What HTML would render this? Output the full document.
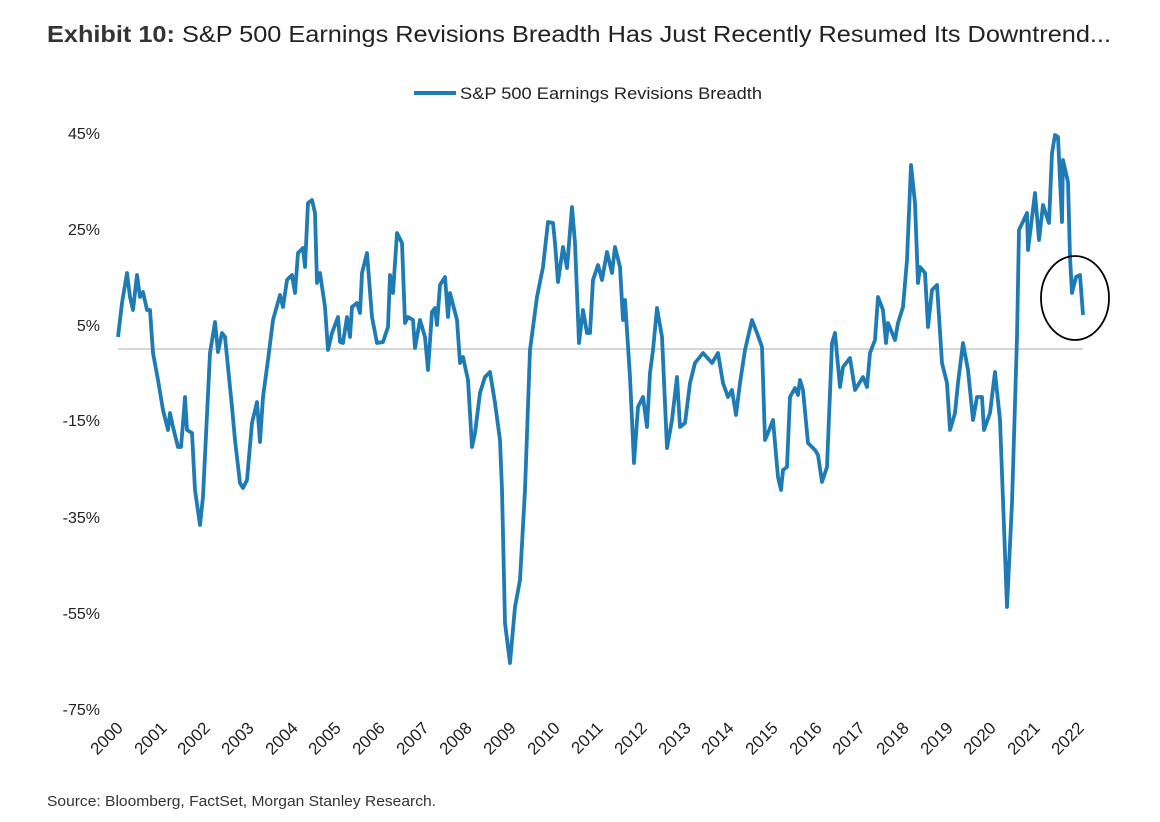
<!DOCTYPE html>
<html><head><meta charset="utf-8"><style>
body{margin:0;background:#fff;}
svg{display:block;font-family:"Liberation Sans",sans-serif;}
</style></head><body>
<svg width="1160" height="822" viewBox="0 0 1160 822" xmlns="http://www.w3.org/2000/svg">
<text x="47" y="42" font-size="23" fill="#222" textLength="1064" lengthAdjust="spacingAndGlyphs"><tspan font-weight="bold" fill="#333">Exhibit 10:</tspan>  S&amp;P 500 Earnings Revisions Breadth Has Just Recently Resumed Its Downtrend...</text>
<line x1="414" y1="93" x2="456" y2="93" stroke="#1f7bb4" stroke-width="4"/>
<text x="460" y="99" font-size="17" fill="#222" textLength="302" lengthAdjust="spacingAndGlyphs">S&amp;P 500 Earnings Revisions Breadth</text>
<g font-size="16" fill="#222" text-anchor="end">
<text x="100" y="139">45%</text><text x="100" y="235">25%</text><text x="100" y="331">5%</text>
<text x="100" y="426">-15%</text><text x="100" y="523">-35%</text><text x="100" y="619">-55%</text><text x="100" y="715">-75%</text>
</g>
<line x1="118" y1="349" x2="1083" y2="349" stroke="#c8c8c8" stroke-width="1.5"/>
<polyline fill="none" stroke="#1f7bb4" stroke-width="3.8" stroke-linejoin="round" points="118,337 122,303 127,273 130,297 133,310 137,275 140,297 143,292 147,310 150,310 153,353 158,380 163,410 168,430 170,413 173,427 178,447 181,447 183,423 185,397 187,430 192,433 195,490 200,525 203,497 210,353 215,322 218,352 222,333 225,337 232,407 235,440 240,483 243,488 247,480 252,423 257,402 260,442 263,397 268,360 273,320 280,295 283,307 287,280 292,275 295,293 298,253 303,248 305,267 308,203 312,200 315,213 317,283 320,273 325,307 328,350 332,333 338,317 340,342 343,343 347,317 350,337 352,307 357,303 360,313 362,273 367,253 372,317 377,343 383,342 388,327 390,275 393,293 397,233 402,243 405,323 408,317 413,320 415,348 420,320 425,337 428,370 432,312 435,308 437,325 440,285 445,277 448,317 450,293 457,320 460,363 463,357 468,380 472,447 475,433 480,393 485,377 490,372 495,403 500,440 502,490 505,623 510,663 515,607 520,580 525,490 530,350 537,297 543,267 548,222 553,223 555,243 558,282 563,247 567,268 572,207 575,243 579,343 583,310 587,333 590,333 593,280 598,265 602,280 607,252 612,273 615,247 620,267 623,320 625,300 630,377 634,463 638,407 643,397 647,427 650,373 653,350 657,308 662,337 667,448 672,420 677,377 680,427 685,423 690,383 695,363 703,353 712,363 718,353 723,383 728,397 732,390 736,415 740,383 745,350 752,320 757,333 762,347 765,440 768,433 773,420 778,477 781,490 783,470 787,467 790,397 795,388 798,395 800,380 803,390 808,443 815,450 818,455 822,482 827,467 832,343 835,333 840,387 843,367 850,358 855,390 863,377 867,387 870,353 875,340 878,297 883,310 886,343 888,323 895,340 898,323 903,307 907,260 911,165 915,203 918,283 920,267 925,273 928,327 932,290 937,285 942,363 947,383 950,430 955,413 958,383 963,343 968,370 973,420 977,397 982,397 984,430 990,413 995,372 1000,420 1007,607 1012,503 1017,337 1019,230 1027,213 1028,250 1035,193 1039,240 1043,205 1049,223 1052,153 1055,135 1058,137 1062,222 1063,160 1068,182 1070,257 1072,293 1076,277 1080,275 1083,315"/>
<ellipse cx="1075" cy="298" rx="34" ry="42" fill="none" stroke="#000" stroke-width="1.8"/>
<g font-size="17" fill="#222" text-anchor="end">
<text transform="translate(124,729) rotate(-45)">2000</text>
<text transform="translate(168,729) rotate(-45)">2001</text>
<text transform="translate(211,729) rotate(-45)">2002</text>
<text transform="translate(255,729) rotate(-45)">2003</text>
<text transform="translate(299,729) rotate(-45)">2004</text>
<text transform="translate(342,729) rotate(-45)">2005</text>
<text transform="translate(386,729) rotate(-45)">2006</text>
<text transform="translate(430,729) rotate(-45)">2007</text>
<text transform="translate(473,729) rotate(-45)">2008</text>
<text transform="translate(517,729) rotate(-45)">2009</text>
<text transform="translate(561,729) rotate(-45)">2010</text>
<text transform="translate(604,729) rotate(-45)">2011</text>
<text transform="translate(648,729) rotate(-45)">2012</text>
<text transform="translate(692,729) rotate(-45)">2013</text>
<text transform="translate(735,729) rotate(-45)">2014</text>
<text transform="translate(779,729) rotate(-45)">2015</text>
<text transform="translate(823,729) rotate(-45)">2016</text>
<text transform="translate(866,729) rotate(-45)">2017</text>
<text transform="translate(910,729) rotate(-45)">2018</text>
<text transform="translate(954,729) rotate(-45)">2019</text>
<text transform="translate(997,729) rotate(-45)">2020</text>
<text transform="translate(1041,729) rotate(-45)">2021</text>
<text transform="translate(1085,729) rotate(-45)">2022</text>
</g>
<text x="47" y="806" font-size="15" fill="#333" textLength="389" lengthAdjust="spacingAndGlyphs">Source: Bloomberg, FactSet, Morgan Stanley Research.</text>
</svg>
</body></html>
